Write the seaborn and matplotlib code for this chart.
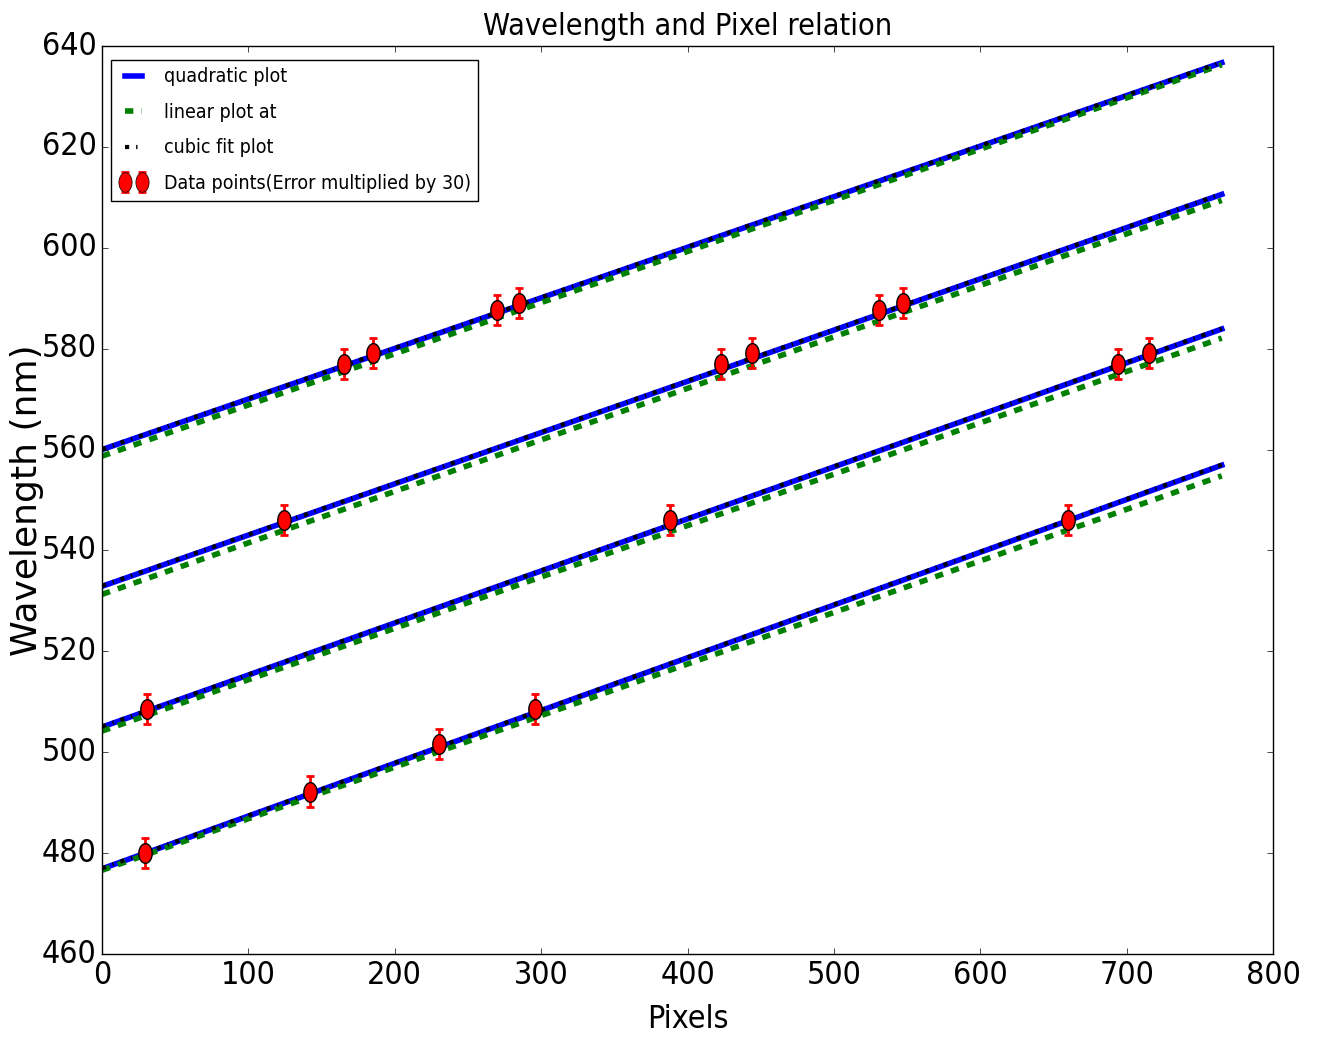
import numpy as np
import pandas as pd
import matplotlib
matplotlib.use("Agg")
import matplotlib.pyplot as plt
import seaborn as sns

# ---- data ----
fit_pixels = [0, 765]
quad_start = [560.0, 532.9, 505.0, 476.9]
quad_end = [636.7, 610.6, 583.9, 556.9]
lin_start = [558.7, 531.3, 504.2, 476.6]
lin_end = [636.3, 609.4, 582.1, 554.8]
cubic_start = [560.1, 533.0, 505.1, 477.0]
cubic_end = [636.8, 610.7, 584.0, 557.0]

order1_px = [165, 185, 270, 285]
order1_wl = [577.0, 579.1, 587.6, 589.0]
order2_px = [124, 423, 444, 531, 547]
order2_wl = [546.1, 577.0, 579.1, 587.6, 589.0]
order3_px = [31, 388, 694, 715]
order3_wl = [508.6, 546.1, 577.0, 579.1]
order4_px = [29, 142, 230, 296, 660]
order4_wl = [480.0, 492.2, 501.6, 508.6, 546.1]
error_nm = 0.1
error_mult = 30

plt.style.use("classic")
plt.rcParams["font.family"] = ["DejaVu Sans"]
plt.rcParams["font.stretch"] = "condensed"

fig = plt.figure(figsize=(13.17, 10.44), dpi=100)
ax = fig.add_axes([0.0775, 0.0862, 0.8891, 0.8697])

for i in range(4):
    sns.lineplot(x=fit_pixels, y=[quad_start[i], quad_end[i]], ax=ax,
                 color="blue", lw=4, label="quadratic plot" if i == 0 else None)
for i in range(4):
    sns.lineplot(x=fit_pixels, y=[lin_start[i], lin_end[i]], ax=ax,
                 color="green", lw=4, linestyle="--",
                 label="linear plot at" if i == 0 else None)
for i in range(4):
    sns.lineplot(x=fit_pixels, y=[cubic_start[i], cubic_end[i]], ax=ax,
                 color="black", lw=3, linestyle="-.",
                 label="cubic fit plot" if i == 0 else None)

px_all = order1_px + order2_px + order3_px + order4_px
wl_all = order1_wl + order2_wl + order3_wl + order4_wl
df = pd.DataFrame({"px": px_all, "wl": wl_all})
err = np.full(len(df), error_nm * error_mult)

t = np.linspace(0, 2 * np.pi, 60)
ellipse = list(zip(0.68 * np.cos(t), np.sin(t)))
ax.errorbar(df["px"], df["wl"], yerr=err, fmt="none", ecolor="red",
            elinewidth=2, capsize=3, capthick=2, zorder=3)
sns.scatterplot(data=df, x="px", y="wl", ax=ax, marker=ellipse, s=200,
                color="red", edgecolor="black", linewidth=1, zorder=4)

# legend
handles, labels = [], []
for ln in ax.get_lines():
    lab = ln.get_label()
    if lab and not lab.startswith("_"):
        handles.append(ln)
        labels.append(lab)
dummy = ax.errorbar([np.nan], [np.nan], yerr=[1], fmt="o", marker=ellipse,
                    markersize=14, mfc="red", mec="black", ecolor="red",
                    elinewidth=2, capsize=3, capthick=2)
handles.append(dummy)
labels.append("Data points(Error multiplied by 30)")
if ax.get_legend() is not None:
    ax.get_legend().remove()
ax.legend(handles, labels, loc="upper left", bbox_to_anchor=(0.0077, 0.985),
          fontsize=14, numpoints=2, handlelength=1.5, labelspacing=0.85,
          fancybox=False, borderaxespad=0)

ax.set_xlim(0, 800)
ax.set_ylim(460, 640)
ax.set_xticks(np.arange(0, 801, 100))
ax.set_yticks(np.arange(460, 641, 20))
ax.tick_params(labelsize=23)
ax.set_xlabel("Pixels", fontsize=23, labelpad=10)
ax.set_ylabel("Wavelength (nm)", fontsize=26, fontstretch="normal")
ax.yaxis.set_label_coords(-0.05, 0.5)
ax.set_title("Wavelength and Pixel relation", fontsize=22, y=1.005)

fig.savefig("out.png", dpi=100)
